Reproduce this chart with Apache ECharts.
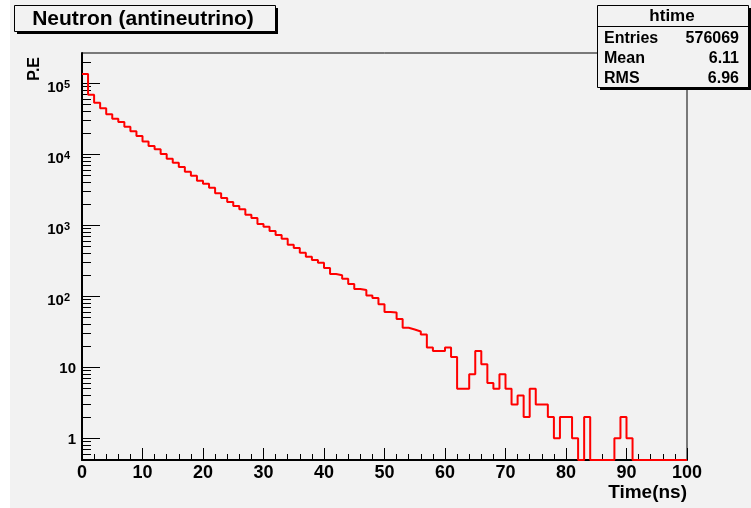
<!DOCTYPE html>
<html><head><meta charset="utf-8">
<script src="https://cdn.jsdelivr.net/npm/echarts@6/dist/echarts.min.js"></script>
<style>html,body{margin:0;padding:0;background:#fff}#c{width:751px;height:508px}</style>
</head><body><div id="c"></div>
<script>
// ---- data ----
const binLowEdges = [0,1,2,3,4,5,6,7,8,9,10,11,12,13,14,15,16,17,18,19,20,21,22,23,24,25,26,27,28,29,30,31,32,33,34,35,36,37,38,39,40,41,42,43,44,45,46,47,48,49,50,51,52,53,54,55,56,57,58,59,60,61,62,63,64,65,66,67,68,69,70,71,72,73,74,75,76,77,78,79,80,81,82,83,84,85,86,87,88,89,90,91,92,93,94,95,96,97,98,99];
const binUpperEdge = 100;
const counts = [135000,69000,53300,44400,36600,31700,28500,24500,21100,18100,
  15200,13100,11750,10100,8670,7620,6630,5690,5000,4250,
  3850,3390,2820,2430,2130,1870,1680,1410,1270,1040,
  955,832,730,647,533,479,411,361,324,297,
  250,206,198,177,149,127,123,103,95,77,
  60,59,48,36,34,32,29,19,17,17,
  19,14,5,5,8,17,11,6,5,8,
  5,3,4,2,5,3,3,2,1,2,
  2,1,0,2,0,0,0,0,1,2,
  1,0,0,0,0,0,0,0,0,0];
const xTickLabels = [0,10,20,30,40,50,60,70,80,90,100];
const yMajorTicks = [1,10,100,1000,10000,100000];
const yMinorTicks = [0.6,0.7,0.8,0.9,2,3,4,5,6,7,8,9,20,30,40,50,60,70,80,90,
  200,300,400,500,600,700,800,900,2000,3000,4000,5000,6000,7000,8000,9000,
  20000,30000,40000,50000,60000,70000,80000,90000,200000];
const titleText = 'Neutron (antineutrino)';
const statsName = 'htime';
const statsLabels = ['Entries','Mean','RMS'];
const statsValues = ['576069','6.11','6.96'];
const xTitle = 'Time(ns)';
const yTitle = 'P.E';

// ---- chart ----
const Y_MIN = 0.495, Y_MAX = 267000;
const FONT = '"Liberation Sans", Arial, Helvetica, sans-serif';
const BG = '#f2f2f2';

const seriesData = binLowEdges.map((x, i) => [x, counts[i] > 0 ? counts[i] : Y_MIN]);
seriesData.push([binUpperEdge, counts[counts.length - 1] > 0 ? counts[counts.length - 1] : Y_MIN]);

function yLabel(v) {
  const e = Math.round(Math.log10(v));
  if (e === 0) return '{n|1}{q| }';
  if (e === 1) return '{n|10}{q| }';
  return '{b|10}{s|' + e + '}{p| }';
}

const chart = echarts.init(document.getElementById('c'), null, {renderer: 'canvas'});
const txt = (o) => Object.assign({fontFamily: FONT, fontWeight: 'bold', fill: '#000'}, o);

const statsGraphics = [];
statsLabels.forEach((lab, i) => {
  statsGraphics.push({type: 'text', z: 101, x: 604, y: 39 + i * 20,
    style: txt({text: lab, fontSize: 16, align: 'left', verticalAlign: 'middle'})});
  statsGraphics.push({type: 'text', z: 101, x: 739, y: 39 + i * 20,
    style: txt({text: statsValues[i], fontSize: 16, align: 'right', verticalAlign: 'middle'})});
});

chart.setOption({
  animation: false,
  backgroundColor: '#ffffff',
  grid: {left: 82, top: 53, right: 64, bottom: 48, show: true, borderColor: '#000', borderWidth: 1, backgroundColor: BG, containLabel: false},
  xAxis: {
    type: 'value', min: 0, max: 100, interval: 10,
    axisLine: {show: true, onZero: false, lineStyle: {color: '#000', width: 2}},
    axisTick: {show: true, inside: true, length: 12, lineStyle: {color: '#000', width: 1}},
    minorTick: {show: true, splitNumber: 5, length: 6, lineStyle: {color: '#000', width: 1}},
    splitLine: {show: false},
    axisLabel: {
      customValues: xTickLabels,
      margin: 4, color: '#000', fontSize: 18, fontWeight: 'bold', fontFamily: FONT
    }
  },
  yAxis: [{
    type: 'log', logBase: 10, min: Y_MIN, max: Y_MAX,
    axisLine: {show: true, onZero: false, lineStyle: {color: '#000', width: 2}},
    axisTick: {show: true, inside: true, length: 18, customValues: yMajorTicks, lineStyle: {color: '#000', width: 1}},
    splitLine: {show: false},
    axisLabel: {
      customValues: yMajorTicks,
      formatter: yLabel, margin: 5, color: '#000', fontFamily: FONT, fontWeight: 'bold',
      rich: {
        n: {fontSize: 15, fontWeight: 'bold', fontFamily: FONT, color: '#000', lineHeight: 15, verticalAlign: 'bottom'},
        q: {width: 1, lineHeight: 19},
        b: {fontSize: 15, fontWeight: 'bold', fontFamily: FONT, color: '#000', lineHeight: 15, verticalAlign: 'bottom'},
        s: {fontSize: 11, fontWeight: 'bold', fontFamily: FONT, color: '#000', lineHeight: 11, verticalAlign: 'bottom', padding: [0, 0, 5, 0]},
        p: {width: 7, lineHeight: 25}
      }
    }
  }, {
    type: 'log', logBase: 10, min: Y_MIN, max: Y_MAX, position: 'left', offset: 0,
    axisLine: {show: false},
    axisTick: {show: true, inside: true, length: 9, customValues: yMinorTicks, lineStyle: {color: '#000', width: 1}},
    axisLabel: {show: false},
    splitLine: {show: false}
  }],
  series: [{
    type: 'line', step: 'end', yAxisIndex: 0, data: seriesData,
    symbol: 'none', showSymbol: false, clip: true,
    lineStyle: {color: '#ff0000', width: 2}, itemStyle: {color: '#ff0000'}, z: 5
  }],
  graphic: [
    {type: 'rect', z: -10, silent: true, shape: {x: 10, y: 0, width: 741, height: 508}, style: {fill: BG}},
    // title pave
    {type: 'rect', z: 100, shape: {x: 17, y: 8, width: 261, height: 26}, style: {fill: '#000'}},
    {type: 'rect', z: 100, shape: {x: 14.5, y: 5.5, width: 261, height: 26}, style: {fill: BG, stroke: '#000', lineWidth: 1}},
    {type: 'text', z: 101, x: 143, y: 19, style: txt({text: titleText, fontSize: 21, align: 'center', verticalAlign: 'middle'})},
    // stats pave
    {type: 'rect', z: 100, shape: {x: 600, y: 8, width: 151, height: 82}, style: {fill: '#000'}},
    {type: 'rect', z: 100, shape: {x: 597.5, y: 5.5, width: 151, height: 82}, style: {fill: BG, stroke: '#000', lineWidth: 1}},
    {type: 'line', z: 101, shape: {x1: 597.5, y1: 26.5, x2: 748.5, y2: 26.5}, style: {stroke: '#000', lineWidth: 1}},
    {type: 'text', z: 101, x: 672, y: 16.5, style: txt({text: statsName, fontSize: 17, align: 'center', verticalAlign: 'middle'})},
    ...statsGraphics,
    // axis titles
    {type: 'text', z: 101, x: 687, y: 493, style: txt({text: xTitle, fontSize: 19, align: 'right', verticalAlign: 'middle'})},
    {type: 'text', z: 101, x: 35, y: 57, rotation: Math.PI / 2, style: txt({text: yTitle, fontSize: 16, align: 'right', verticalAlign: 'middle'})}
  ]
});
</script>
</body></html>
